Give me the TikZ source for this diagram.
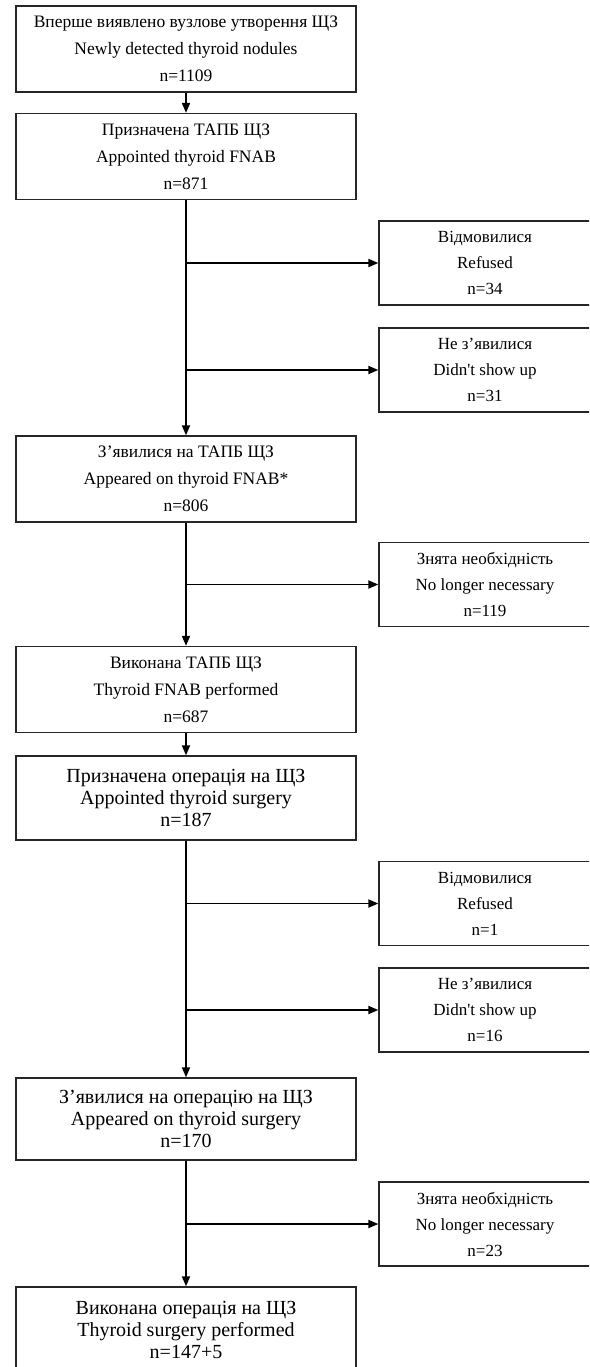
\documentclass[tikz,border=0pt]{standalone}
\usepackage{fontspec}
\setmainfont{Liberation Serif}[Ligatures=TeXOff]
\usetikzlibrary{arrows.meta,positioning}

\begin{document}
\begin{tikzpicture}[
    x=1pt, y=1pt,
    box/.style={rectangle, draw=black!85, line width=1.3pt, minimum width=340pt, minimum height=86pt, align=center, inner sep=0pt, font=\fontsize{17.5}{27}\selectfont},
    opbox/.style={box, font=\fontsize{20}{22}\selectfont},
    sidebox/.style={box, minimum width=212pt, minimum height=84pt, font=\fontsize{17}{26}\selectfont},
    arrow/.style={-{Triangle[length=10pt,width=8pt]}, line width=1.8pt}
]
    \useasboundingbox (0,0) rectangle (589,-1367);
    \clip (0,0) rectangle (589,-1367);

    % main column
    \node[box] (b1) at (186,-49) {Вперше виявлено вузлове утворення ЩЗ\\Newly detected thyroid nodules\\n=1109};
    \node[box] (b2) at (186,-156.5) {Призначена ТАПБ ЩЗ\\Appointed thyroid FNAB\\n=871};
    \node[box] (b3) at (186,-479) {З’явилися на ТАПБ ЩЗ\\Appeared on thyroid FNAB*\\n=806};
    \node[box] (b4) at (186,-689.5) {Виконана ТАПБ ЩЗ\\Thyroid FNAB performed\\n=687};
    \node[opbox, minimum height=84pt] (b5) at (186,-798) {Призначена операція на ЩЗ\\Appointed thyroid surgery\\n=187};
    \node[opbox, minimum height=82pt] (b6) at (186,-1119) {З’явилися на операцію на ЩЗ\\Appeared on thyroid surgery\\n=170};
    \node[opbox] (b7) at (186,-1330) {Виконана операція на ЩЗ\\Thyroid surgery performed\\n=147+5};

    % drop-outs
    \node[sidebox] (r1) at (485,-263) {Відмовилися\\Refused\\n=34};
    \node[sidebox] (d1) at (485,-370) {Не з’явилися\\Didn't show up\\n=31};
    \node[sidebox] (n1) at (485,-584.5) {Знята необхідність\\No longer necessary\\n=119};
    \node[sidebox] (r2) at (485,-903.5) {Відмовилися\\Refused\\n=1};
    \node[sidebox] (d2) at (485,-1010) {Не з’явилися\\Didn't show up\\n=16};
    \node[sidebox] (n2) at (485,-1224) {Знята необхідність\\No longer necessary\\n=23};

    \draw[arrow] (b1) -- (b2);
    \draw[arrow] (b2) -- (b3);
    \draw[arrow] (b3) -- (b4);
    \draw[arrow] (b4) -- (b5);
    \draw[arrow] (b5) -- (b6);
    \draw[arrow] (b6) -- (b7);

    \draw[arrow] (b2.south |- r1.west) -- (r1.west);
    \draw[arrow] (b2.south |- d1.west) -- (d1.west);
    \draw[arrow] (b3.south |- n1.west) -- (n1.west);
    \draw[arrow] (b5.south |- r2.west) -- (r2.west);
    \draw[arrow] (b5.south |- d2.west) -- (d2.west);
    \draw[arrow] (b6.south |- n2.west) -- (n2.west);
\end{tikzpicture}
\end{document}
